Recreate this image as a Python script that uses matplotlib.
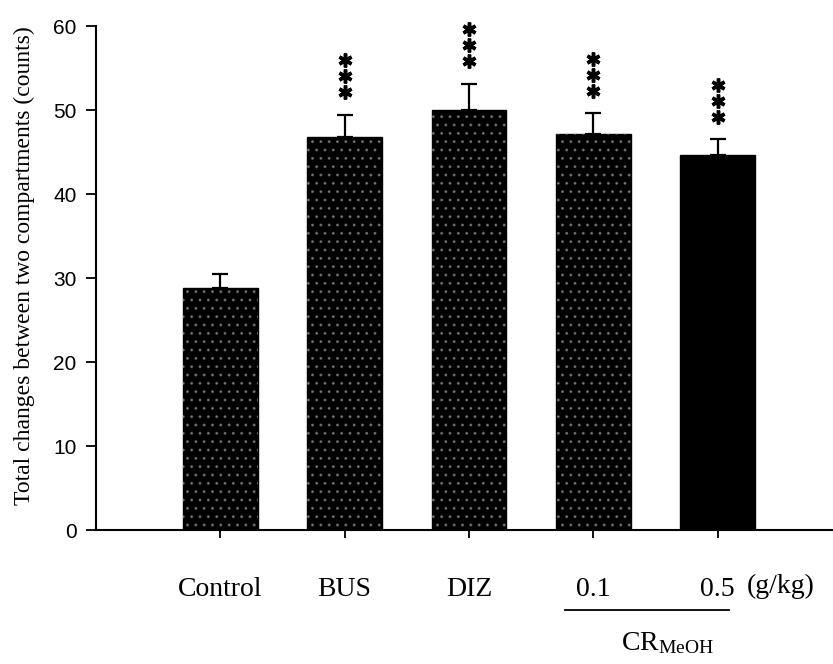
import numpy as np
from matplotlib import pyplot as plt
from matplotlib import transforms

plt.rcParams["mathtext.fontset"] = "custom"
plt.rcParams["mathtext.rm"] = "Liberation Serif"
plt.rcParams["mathtext.it"] = "Liberation Serif:italic"
plt.rcParams["hatch.linewidth"] = 1.0

# values
groups = ["Control", "BUS", "DIZ", "0.1", "0.5"]
means = [28.8, 46.8, 50.0, 47.1, 44.6]
sems = [1.7, 2.6, 3.1, 2.5, 1.9]
stars = ["", "***", "***", "***", "***"]
speckled = [True, True, True, True, False]
unit_label = "(g/kg)"
extract_label = r"CR$_{\mathrm{MeOH}}$"
ylabel = "Total changes between two compartments (counts)"
yticks = [0, 10, 20, 30, 40, 50, 60]

fig = plt.figure(figsize=(8.33, 6.64), dpi=100)
ax = fig.add_axes([0.1152, 0.2018, 0.8836, 0.759])

x = np.arange(len(groups))
ax.bar(x, means, width=0.6, color="black", edgecolor="black", zorder=2)
# scanned-print speckle on the bars
for xi, m, sp in zip(x, means, speckled):
    if sp:
        ax.bar(xi, m, width=0.6, facecolor="none", edgecolor="white",
               hatch="..", linewidth=0, alpha=0.3, zorder=2.5)
ax.errorbar(x, means, yerr=[np.zeros(len(sems)), sems], fmt="none",
            ecolor="black", elinewidth=1.6, capsize=5.5, capthick=1.6, zorder=3)

# significance asterisks stacked above the error bars
for xi, m, s, st in zip(x, means, sems, stars):
    for k in range(len(st)):
        ax.plot(xi, m + s + 2.7 + 1.9 * k, marker=(6, 2, 0), color="black",
                markersize=10, markeredgewidth=2.5, clip_on=False, zorder=4)

ax.set_xlim(-1.0, 4.92)
ax.set_ylim(0, 60)
ax.set_yticks(yticks)
ax.set_yticklabels([str(t) for t in yticks], fontfamily="Liberation Sans", fontsize=15)
ax.set_xticks(x)
ax.set_xticklabels(groups, fontfamily="Liberation Serif", fontsize=20)
ax.tick_params(axis="y", direction="out", length=7, width=1.3, pad=7)
ax.tick_params(axis="x", direction="out", length=6, width=1.3, pad=28)

ax.spines["top"].set_visible(False)
ax.spines["right"].set_visible(False)
ax.spines["left"].set_linewidth(1.5)
ax.spines["bottom"].set_linewidth(1.5)

ax.set_ylabel(ylabel, fontfamily="Liberation Serif", fontsize=17)
ax.yaxis.set_label_coords(-0.083, 0.525)

trans = transforms.blended_transform_factory(ax.transData, ax.transAxes)
ax.text(4.51, -0.0873, unit_label, transform=trans, ha="center", va="top",
        fontfamily="Liberation Serif", fontsize=20)
ax.plot([2.77, 4.09], [-0.159, -0.159], transform=trans, color="black",
        linewidth=1.3, clip_on=False)
ax.text(3.6, -0.225, extract_label, transform=trans, ha="center", va="center",
        fontfamily="Liberation Serif", fontsize=20)

fig.savefig("out.png", dpi=100)
